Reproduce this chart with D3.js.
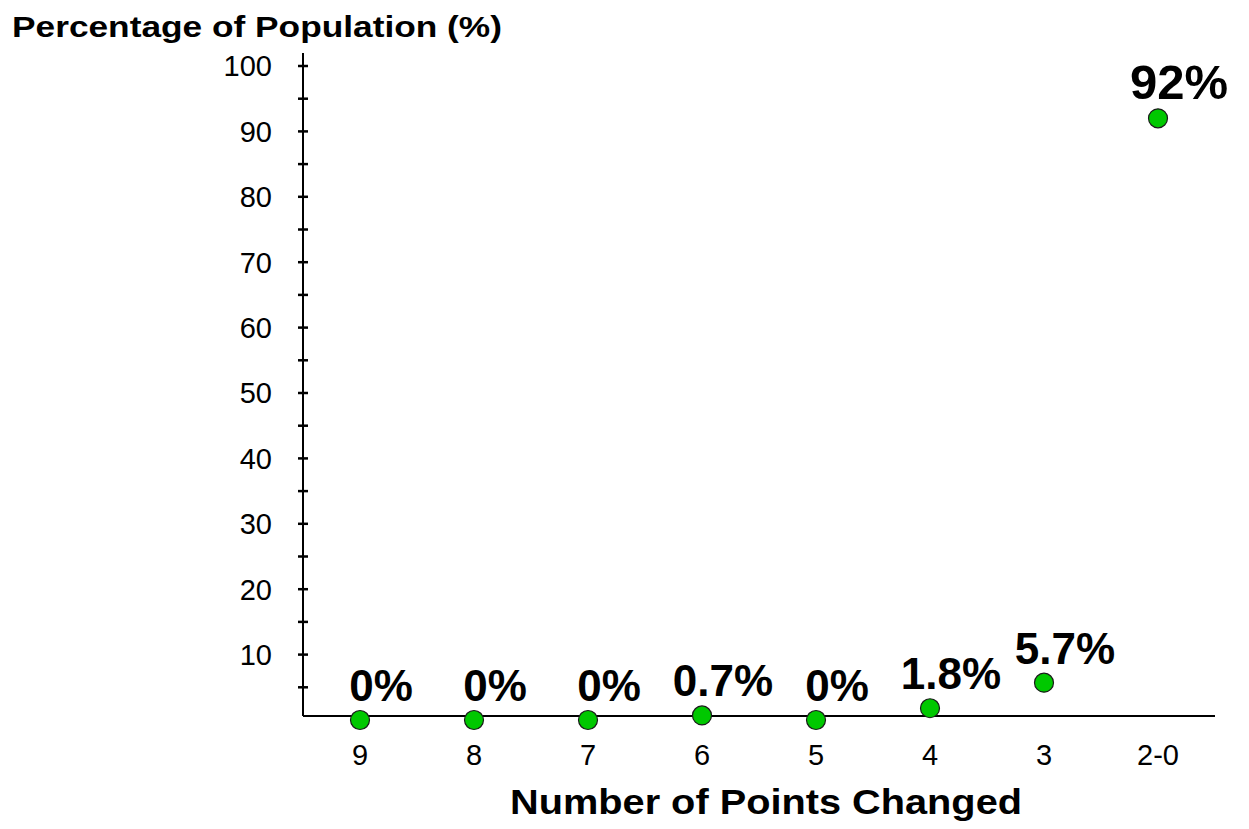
<!DOCTYPE html>
<html>
<head>
<meta charset="utf-8">
<script src="https://cdn.jsdelivr.net/npm/d3@7"></script>
<style>
  html, body { margin: 0; padding: 0; background: #fff; }
  svg { display: block; font-family: "Liberation Sans", Arial, sans-serif; }
</style>
</head>
<body>
<svg id="chart" width="1249" height="829"></svg>
<script>
// ---- data ----
const categories = ["9", "8", "7", "6", "5", "4", "3", "2-0"];
const values = [0, 0, 0, 0.7, 0, 1.8, 5.7, 92];
const valueLabels = ["0%", "0%", "0%", "0.7%", "0%", "1.8%", "5.7%", "92%"];
const yTickValues = [10, 20, 30, 40, 50, 60, 70, 80, 90, 100];
const yMinorTickValues = [5, 15, 25, 35, 45, 55, 65, 75, 85, 95];
const yTitle = "Percentage of Population (%)";
const xTitle = "Number of Points Changed";

// ---- layout ----
const axisX = 303, axisRight = 1215, axisTop = 53;
const svg = d3.select("#chart");

const y = d3.scaleLinear().domain([0, 100]).range([720, 66]);
const x = d3.scalePoint().domain(categories).range([axisX, axisRight]).padding(0.5);
const baseY = y(0.6); // where the horizontal axis line sits

// y axis line
svg.append("line")
  .attr("x1", axisX).attr("x2", axisX)
  .attr("y1", axisTop).attr("y2", baseY)
  .attr("stroke", "#000").attr("stroke-width", 2);

// x axis line
svg.append("line")
  .attr("x1", axisX).attr("x2", axisRight)
  .attr("y1", baseY).attr("y2", baseY)
  .attr("stroke", "#000").attr("stroke-width", 2);

// y ticks (major + minor) crossing axis
const allTicks = yTickValues.concat(yMinorTickValues);
svg.append("g").selectAll("line").data(allTicks).join("line")
  .attr("x1", axisX - 5).attr("x2", axisX + 5)
  .attr("y1", d => y(d)).attr("y2", d => y(d))
  .attr("stroke", "#000").attr("stroke-width", 2.5);

// y tick labels
svg.append("g").selectAll("text").data(yTickValues).join("text")
  .attr("x", axisX - 31)
  .attr("y", d => y(d))
  .attr("dy", "0.36em")
  .attr("text-anchor", "end")
  .attr("font-size", 29)
  .attr("fill", "#000")
  .text(d => d);

// x tick labels
svg.append("g").selectAll("text").data(categories).join("text")
  .attr("x", d => x(d))
  .attr("y", 765)
  .attr("text-anchor", "middle")
  .attr("font-size", 29)
  .attr("fill", "#000")
  .text(d => d);

// points
const pts = categories.map((c, i) => ({ c, v: values[i], label: valueLabels[i] }));
svg.append("g").selectAll("circle").data(pts).join("circle")
  .attr("cx", d => x(d.c))
  .attr("cy", d => y(d.v))
  .attr("r", 9.5)
  .attr("fill", "#00c800")
  .attr("stroke", "#1a1a1a")
  .attr("stroke-width", 1.2);

// value labels
svg.append("g").selectAll("text").data(pts).join("text")
  .attr("x", d => x(d.c) + 21)
  .attr("y", d => y(d.v) - 19)
  .attr("text-anchor", "middle")
  .attr("font-weight", "bold")
  .attr("font-size", (d, i) => i === pts.length - 1 ? 49 : 44)
  .attr("fill", "#000")
  .text(d => d.label);

// axis titles
svg.append("text")
  .attr("x", 12).attr("y", 37)
  .attr("font-weight", "bold")
  .attr("font-size", 30)
  .attr("textLength", 490)
  .attr("lengthAdjust", "spacingAndGlyphs")
  .attr("fill", "#000")
  .text(yTitle);

svg.append("text")
  .attr("x", 510).attr("y", 814)
  .attr("font-weight", "bold")
  .attr("font-size", 35)
  .attr("textLength", 512)
  .attr("lengthAdjust", "spacingAndGlyphs")
  .attr("fill", "#000")
  .text(xTitle);
</script>
</body>
</html>
